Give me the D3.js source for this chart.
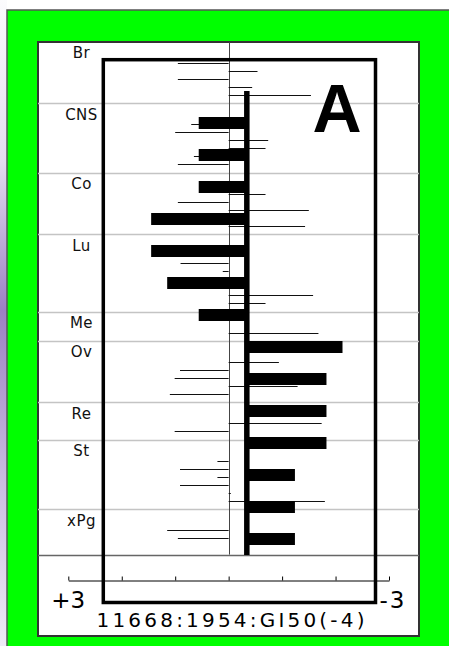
<!DOCTYPE html>
<html>
<head>
<meta charset="utf-8">
<script src="https://cdn.jsdelivr.net/npm/d3@7"></script>
<style>
  html, body { margin: 0; padding: 0; background: #fff; }
  svg { display: block; }
</style>
</head>
<body>
<div id="chart"></div>
<script>
// panels (tissue groups) and their cell line values, log units
const panels = ['Br', 'CNS', 'Co', 'Lu', 'Me', 'Ov', 'Re', 'St', 'xPg'];
const cellValues = [
  [0.95, -0.54, 0.95, -0.44, -1.54],
  [0.70, 1.00, -0.74, -0.69, 0.65, 0.95],
  [-0.69, 0.95, -1.50, 0.40, -1.43],
  [0.80, 0.90, 0.11, 0.60, 0.30, -1.58, -0.69],
  [-1.68],
  [-0.94, 0.91, 1.01, -1.29, 1.10],
  [-1.74, 1.01],
  [0.21, 0.91, 0.21, 0.91, -0.04, -1.80],
  [1.15, 0.95, 0]
];
// the thick "fingerprint" bars and their base
const patternValues = [0.56, 0.56, 0.56, 1.45, 1.45, 1.15, 0.56, -2.13, -1.83, -1.83, -1.83, -1.24, -1.24, -1.24];
const patternBase = -0.34;
const axisTicks = [3, 2, 1, 0, -1, -2, -3];
const axisEndLabels = ['+3', '-3'];
const title = '11668:1954:GI50(-4)';
const panelLetter = 'A';

const width = 449, height = 646;
const svg = d3.select('#chart').append('svg')
  .attr('width', width)
  .attr('height', height);

// left gradient strip
const defs = svg.append('defs');
const grad = defs.append('linearGradient')
  .attr('id', 'strip').attr('x1', 0).attr('y1', 0).attr('x2', 0).attr('y2', 1);
grad.append('stop').attr('offset', '0%').attr('stop-color', '#fbfbfd');
grad.append('stop').attr('offset', '25%').attr('stop-color', '#e4dcef');
grad.append('stop').attr('offset', '48%').attr('stop-color', '#9c80c4');
grad.append('stop').attr('offset', '75%').attr('stop-color', '#cbbde2');
grad.append('stop').attr('offset', '100%').attr('stop-color', '#efebf6');
svg.append('rect').attr('x', 0).attr('y', 0).attr('width', 7).attr('height', height)
  .attr('fill', 'url(#strip)');

// green frame
svg.append('rect').attr('x', 7).attr('y', 10).attr('width', width).attr('height', height)
  .attr('fill', '#00ff00').attr('stroke', '#555').attr('stroke-width', 1.5);

// white panel
const px0 = 38, px1 = 419, py0 = 42, py1 = 636;
svg.append('rect').attr('x', px0).attr('y', py0).attr('width', px1 - px0).attr('height', py1 - py0)
  .attr('fill', '#fff').attr('stroke', '#333').attr('stroke-width', 2);

const x = d3.scaleLinear().domain([3, -3]).range([68.3, 389]);

// row layout: header of 2.675 row units, then one unit per cell line
const header = 2.675;
const totalUnits = d3.sum(cellValues, v => header + v.length);
const y = d3.scaleLinear().domain([0, totalUnits]).range([py0, 554.6]);

let u = 0;
const panelStarts = [];
const rows = [];
cellValues.forEach((vals, p) => {
  panelStarts.push(u);
  vals.forEach((v, i) => rows.push({ v, u: u + header + i }));
  u += header + vals.length;
});

// grid lines between panels
svg.append('g')
  .selectAll('line')
  .data(panelStarts.slice(1))
  .enter().append('line')
  .attr('x1', px0).attr('x2', px1)
  .attr('y1', d => Math.round(y(d)) + 0.5)
  .attr('y2', d => Math.round(y(d)) + 0.5)
  .attr('stroke', '#c4c4c4').attr('stroke-width', 1.5);
svg.append('line')
  .attr('x1', px0).attr('x2', px1)
  .attr('y1', Math.round(y(totalUnits)) + 0.5).attr('y2', Math.round(y(totalUnits)) + 0.5)
  .attr('stroke', '#666').attr('stroke-width', 1.5);

// panel labels
svg.append('g')
  .selectAll('text')
  .data(panels)
  .enter().append('text')
  .attr('x', 81.5)
  .attr('y', (d, i) => y(panelStarts[i]) + 16.3)
  .attr('text-anchor', 'middle')
  .attr('font-family', 'DejaVu Sans, sans-serif')
  .attr('font-size', 15)
  .attr('letter-spacing', 0.5)
  .attr('fill', '#111')
  .text(d => d);

// zero line
svg.append('line')
  .attr('x1', Math.round(x(0)) + 0.5).attr('x2', Math.round(x(0)) + 0.5)
  .attr('y1', py0).attr('y2', y(totalUnits))
  .attr('stroke', '#444').attr('stroke-width', 1);

// thin lines for each cell line
svg.append('g')
  .selectAll('line')
  .data(rows.filter(d => d.v !== 0))
  .enter().append('line')
  .attr('x1', x(0))
  .attr('x2', d => x(d.v))
  .attr('y1', d => Math.floor(y(d.u)) + 0.5)
  .attr('y2', d => Math.floor(y(d.u)) + 0.5)
  .attr('stroke', '#111').attr('stroke-width', 1);

// thick pattern bars
const yb = d3.scaleBand().domain(d3.range(patternValues.length)).range([107, 555]);
svg.append('g')
  .selectAll('rect')
  .data(patternValues)
  .enter().append('rect')
  .attr('x', d => Math.min(x(d), x(patternBase)))
  .attr('width', d => Math.abs(x(d) - x(patternBase)))
  .attr('y', (d, i) => yb(i) + yb.bandwidth() / 2 - 6)
  .attr('height', 12)
  .attr('fill', '#000');
svg.append('rect')
  .attr('x', x(patternBase) - 2.75).attr('width', 5.5)
  .attr('y', 91).attr('height', 555 - 91)
  .attr('fill', '#000');

// big letter
svg.append('text')
  .attr('x', 337).attr('y', 132)
  .attr('text-anchor', 'middle')
  .attr('font-family', 'Liberation Sans, Arial, sans-serif')
  .attr('font-weight', 'bold')
  .attr('font-size', 68)
  .text(panelLetter);

// inner thick frame
svg.append('rect')
  .attr('x', 103.3).attr('y', 59.7).attr('width', 375.5 - 103.3).attr('height', 602.5 - 59.7)
  .attr('fill', 'none').attr('stroke', '#000').attr('stroke-width', 3.5);

// bottom axis
const axis = svg.append('g')
  .attr('transform', 'translate(0,580.5)')
  .call(d3.axisTop(x).tickValues(axisTicks).tickSize(4).tickSizeOuter(0).tickFormat(''));
axis.select('.domain').attr('stroke', '#000');
axis.selectAll('.tick line').attr('stroke', '#000');

svg.append('text')
  .attr('x', x(3)).attr('y', 608)
  .attr('text-anchor', 'middle')
  .attr('font-family', 'DejaVu Sans, sans-serif')
  .attr('font-size', 23)
  .text(axisEndLabels[0]);
svg.append('text')
  .attr('x', 379.5).attr('y', 608)
  .attr('font-family', 'DejaVu Sans, sans-serif')
  .attr('font-size', 23)
  .attr('letter-spacing', 2)
  .text(axisEndLabels[1]);

svg.append('text')
  .attr('x', 96.5).attr('y', 626.5)
  .attr('font-family', 'DejaVu Sans, sans-serif')
  .attr('font-size', 20)
  .attr('textLength', 268)
  .attr('lengthAdjust', 'spacing')
  .text(title);
</script>
</body>
</html>
